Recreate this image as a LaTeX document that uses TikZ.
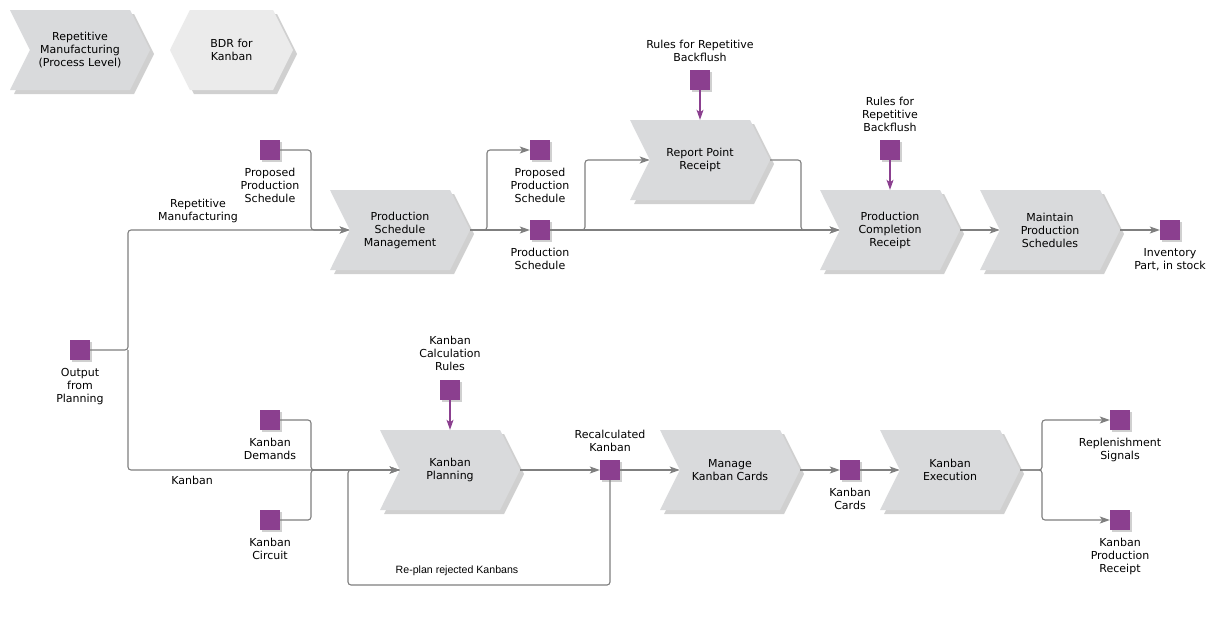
\documentclass[tikz,border=0pt]{standalone}
\usepackage{fontspec}
\setmainfont{DejaVu Sans}
\newfontfamily\arialfont{Liberation Sans}
\usetikzlibrary{arrows.meta,positioning,shapes.symbols,shadows}

\definecolor{stepgray}{HTML}{D9DADC}
\definecolor{hexgray}{HTML}{EBEBEB}
\definecolor{objpurple}{HTML}{8B3F8F}
\definecolor{linegray}{HTML}{7F7F7F}

\begin{document}
\begin{tikzpicture}[x=1pt, y=-1pt,
    % global styles
    label text/.style={font=\fontsize{11}{13}\selectfont, align=center, inner sep=1pt},
    step shadow/.style={drop shadow={shadow xshift=4pt, shadow yshift=-4pt, opacity=0.3, fill=black!60}},
    process/.style={label text, signal, signal to=east, signal from=west, signal pointer angle=127,
        fill=stepgray, minimum width=140pt, minimum height=80pt, step shadow},
    % hexagon for the BDR box
    hexbox/.style={label text, signal, signal to=east and west, signal pointer angle=127,
        fill=hexgray, minimum width=123pt, minimum height=80pt, step shadow},
    % purple object square
    object/.style={rectangle, fill=objpurple, minimum size=20pt, inner sep=0pt,
        drop shadow={shadow xshift=2pt, shadow yshift=-2pt, opacity=0.3, fill=black!60}},
    obj label/.style={label text},
    % connector styles
    flow/.style={draw=linegray, line width=1.1pt, rounded corners=3pt, -{Stealth[length=10pt, width=7pt, inset=2.5pt]}},
    flow line/.style={draw=linegray, line width=1.1pt, rounded corners=3pt},
    rule/.style={draw=objpurple, line width=1.1pt, -{Stealth[length=10pt, width=7pt, inset=2.5pt]}}
]

    \useasboundingbox[fill=white] (0,0) rectangle (1218,616);

    % --- 1. header shapes ---
    \node[process] (rm) at (80,50) {Repetitive\\Manufacturing\\(Process Level)};
    \node[hexbox] (bdr) at (231.5,50) {BDR for\\Kanban};

    % --- 2. process steps ---
    \node[process] (psm) at (400,230) {Production\\Schedule\\Management};
    \node[process] (rpr) at (700,160) {Report Point\\Receipt};
    \node[process] (pcr) at (890,230) {Production\\Completion\\Receipt};
    \node[process] (mps) at (1050,230) {Maintain\\Production\\Schedules};
    \node[process] (kp) at (450,470) {Kanban\\Planning};
    \node[process] (mkc) at (730,470) {Manage\\Kanban Cards};
    \node[process] (ke) at (950,470) {Kanban\\Execution};

    % --- 3. objects and their labels ---
    \node[object] (ofp) at (80,350) {};
    \node[obj label, below=7pt of ofp] (ofp text) {Output\\from\\Planning};
    \node[object] (pps1) at (270,150) {};
    \node[obj label, below=7pt of pps1] (pps1 text) {Proposed\\Production\\Schedule};
    \node[object] (pps2) at (540,150) {};
    \node[obj label, below=7pt of pps2] (pps2 text) {Proposed\\Production\\Schedule};
    \node[object] (ps) at (540,230) {};
    \node[obj label, below=7pt of ps] (ps text) {Production\\Schedule};
    \node[object] (rrb1) at (700,80) {};
    \node[obj label, above=7pt of rrb1] (rrb1 text) {Rules for Repetitive\\Backflush};
    \node[object] (rrb2) at (890,150) {};
    \node[obj label, above=7pt of rrb2] (rrb2 text) {Rules for\\Repetitive\\Backflush};
    \node[object] (inv) at (1170,230) {};
    \node[obj label, below=7pt of inv] (inv text) {Inventory\\Part, in stock};
    \node[object] (kd) at (270,420) {};
    \node[obj label, below=7pt of kd] (kd text) {Kanban\\Demands};
    \node[object] (kc) at (270,520) {};
    \node[obj label, below=7pt of kc] (kc text) {Kanban\\Circuit};
    \node[object] (kcr) at (450,390) {};
    \node[obj label, above=8pt of kcr] (kcr text) {Kanban\\Calculation\\Rules};
    \node[object] (rk) at (610,470) {};
    \node[obj label, above=7pt of rk] (rk text) {Recalculated\\Kanban};
    \node[object] (kcards) at (850,470) {};
    \node[obj label, below=7pt of kcards] (kcards text) {Kanban\\Cards};
    \node[object] (rs) at (1120,420) {};
    \node[obj label, below=7pt of rs] (rs text) {Replenishment\\Signals};
    \node[object] (kpr) at (1120,520) {};
    \node[obj label, below=7pt of kpr] (kpr text) {Kanban\\Production\\Receipt};

    % --- 4. bend points of the connectors ---
    \coordinate (split out) at (128,350);
    \coordinate (join pps) at (311,230);
    \coordinate (split psm) at (487,230);
    \coordinate (split ps) at (585,230);
    \coordinate (join rpr) at (801,230);
    \coordinate (join kanban) at (311,470);
    \coordinate (loop corner) at (348,585);
    \coordinate (split ke) at (1042,470);

    % --- 5. connectors: upper line ---
    \draw[flow] (ofp.east) -- (split out) |- (psm.west);
    \draw[flow] (pps1.east) -| (join pps) -- (psm.west);
    \draw[flow] (psm.east) -- (ps.west);
    \draw[flow] (psm.east) -- (split psm) |- (pps2.west);
    \draw[flow] (ps.east) -- (pcr.west);
    \draw[flow] (ps.east) -- (split ps) |- (rpr.west);
    \draw[flow] (rpr.east) -| (join rpr) -- (pcr.west);
    \draw[rule] (rrb1.south) -- (rpr.north);
    \draw[rule] (rrb2.south) -- (pcr.north);
    \draw[flow] (pcr.east) -- (mps.west);
    \draw[flow] (mps.east) -- (inv.west);

    % --- 6. connectors: kanban line ---
    \draw[flow] (split out) |- (kp.west);
    \draw[flow] (kd.east) -| (join kanban) -- (kp.west);
    \draw[flow] (kc.east) -| (join kanban) -- (kp.west);
    \draw[rule] (kcr.south) -- (kp.north);
    \draw[flow] (kp.east) -- (rk.west);
    \draw[flow] (rk.east) -- (mkc.west);
    \draw[flow line] (rk.south) |- (loop corner) |- (kp.west);
    \draw[flow] (mkc.east) -- (kcards.west);
    \draw[flow] (kcards.east) -- (ke.west);
    \draw[flow] (ke.east) -- (split ke) |- (rs.west);
    \draw[flow] (ke.east) -- (split ke) |- (kpr.west);

    % --- 7. connector labels ---
    \node[label text] (rm line text) at (198,211) {Repetitive\\Manufacturing};
    \node[label text] (kanban line text) at (192,480) {Kanban};
    \node[label text, font=\arialfont\fontsize{10.6}{13}\selectfont] (replan text) at (457,571) {Re-plan rejected Kanbans};

\end{tikzpicture}
\end{document}
